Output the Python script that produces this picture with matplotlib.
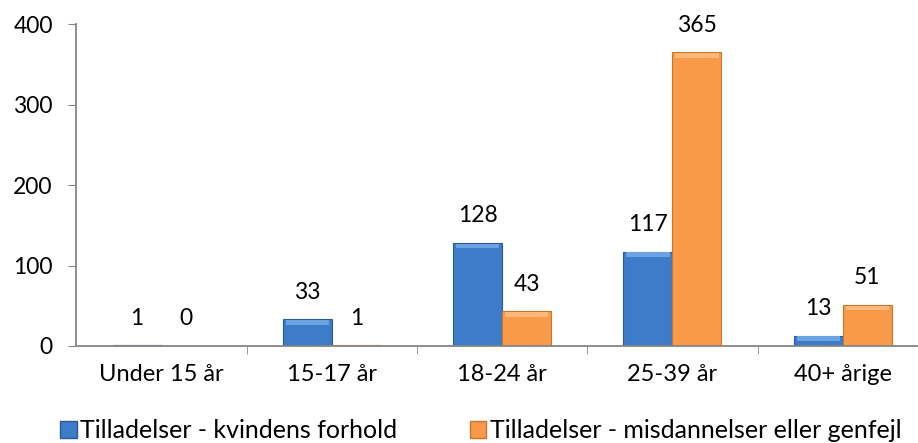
import numpy as np
import matplotlib.pyplot as plt
from matplotlib.patches import Patch
from matplotlib.ticker import FixedLocator

categories = ["Under 15 år", "15-17 år", "18-24 år", "25-39 år", "40+ årige"]
kvindens = [1, 33, 128, 117, 13]
misdannelser = [0, 1, 43, 365, 51]
series_names = ["Tilladelser - kvindens forhold", "Tilladelser - misdannelser eller genfejl"]

blue = "#3c7cc8"
blue_edge = "#2a5a94"
orange = "#f99a48"
orange_edge = "#c8762f"
axis_col = "#868686"
fs = 16.5

plt.rcParams["font.family"] = ["Lato", "DejaVu Sans"]

W, H = 918, 443
fig = plt.figure(figsize=(W / 100, H / 100), dpi=100)
# axes runs a bit past the right edge, as in the reference
ax = fig.add_axes([76.4 / W, 1 - 346 / H, 851.5 / W, 322 / H])

x = np.arange(len(categories))
w = 0.288
b1 = ax.bar(x - w / 2, kvindens, w, color=blue, edgecolor=blue_edge, lw=0.8)
b2 = ax.bar(x + w / 2, misdannelser, w, color=orange, edgecolor=orange_edge, lw=0.8)

# bevel highlight along the top of each bar
for bars, hl in ((b1, "#6aa2e2"), (b2, "#ffb877")):
    for r in bars:
        h = r.get_height()
        if h > 0:
            t = min(h, 6)
            ax.bar(r.get_x() + r.get_width() / 2, t, r.get_width() * 0.88,
                   bottom=h - t - 0.8, color=hl, lw=0)

for bars, vals in ((b1, kvindens), (b2, misdannelser)):
    for r, v in zip(bars, vals):
        ax.annotate(str(v), (r.get_x() + r.get_width() / 2, v), xytext=(0, 19.5),
                    textcoords="offset points", ha="center", va="center", fontsize=fs)

ax.set_xlim(-0.5, 4.5)
ax.set_ylim(0, 400)
ax.set_yticks([0, 100, 200, 300, 400])
ax.set_xticks(x)
ax.set_xticklabels(categories)
ax.xaxis.set_minor_locator(FixedLocator([0.5, 1.5, 2.5, 3.5]))
ax.tick_params(axis="x", which="major", length=0, pad=13, labelsize=17)
ax.tick_params(axis="x", which="minor", length=6, color=axis_col, direction="out")
ax.tick_params(axis="y", length=6, color=axis_col, labelsize=fs, pad=11)

for s in ("top", "right"):
    ax.spines[s].set_visible(False)
for s in ("left", "bottom"):
    ax.spines[s].set_color(axis_col)
    ax.spines[s].set_linewidth(1.3)

handles = [Patch(facecolor=blue, edgecolor=blue_edge), Patch(facecolor=orange, edgecolor=orange_edge)]
fig.legend(handles, series_names, loc="center", bbox_to_anchor=(481 / W, 1 - 431 / H), ncol=2,
           frameon=False, fontsize=18, handlelength=0.65, handleheight=0.65,
           handletextpad=0.15, columnspacing=2.9, borderpad=0)

fig.savefig("out.png", dpi=100)
